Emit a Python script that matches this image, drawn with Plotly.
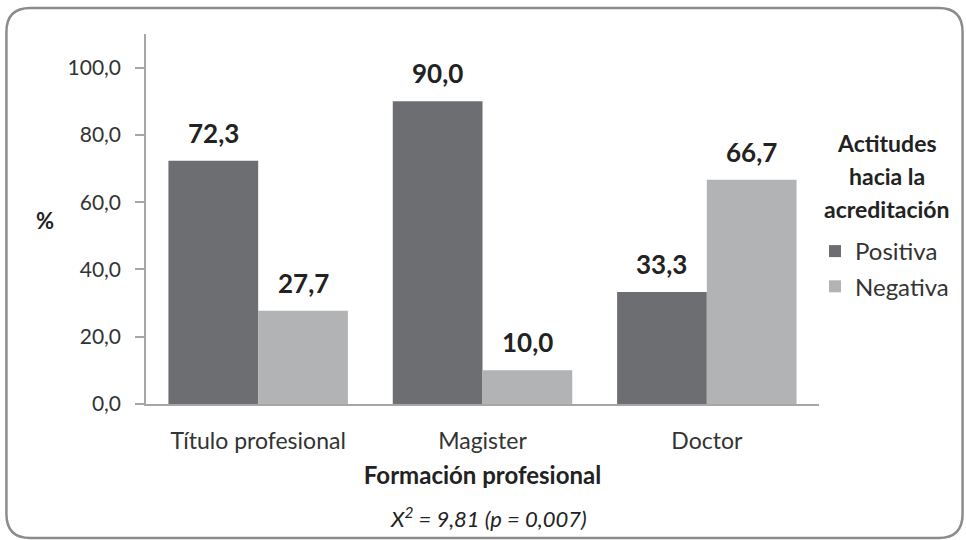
import plotly.graph_objects as go

categories = ["Título profesional", "Magister", "Doctor"]
positiva = [72.3, 90.0, 33.3]
negativa = [27.7, 10.0, 66.7]
series_names = ["Positiva", "Negativa"]
tick_vals = [0, 20, 40, 60, 80, 100]
tick_text = ["0,0", "20,0", "40,0", "60,0", "80,0", "100,0"]
legend_title_lines = ["Actitudes", "hacia la", "acreditación"]

FONT = "Lato"
W, H = 966, 540
L, R, T, B = 146, 145, 34, 136
PW, PH = W - L - R, H - T - B

def fmt(v):
    return f"{v:.1f}".replace(".", ",")

def px2paper(x, y):
    return (x - L) / PW, (H - B - y) / PH

fig = go.Figure()
colors = ["#6d6e71", "#b2b3b5"]
for i, (name, vals) in enumerate(zip(series_names, [positiva, negativa])):
    fig.add_trace(go.Bar(
        name=name, x=categories, y=vals, legendgroup=name,
        marker=dict(color=colors[i], line=dict(width=0)),
    ))
    shift = -45 if i == 0 else 45
    for c, v in zip(categories, vals):
        fig.add_annotation(x=c, y=v, xref="x", yref="y", text=f"<b>{fmt(v)}</b>",
                           showarrow=False, xshift=shift, yshift=10, yanchor="bottom",
                           font=dict(family=FONT, size=26, color="#222222"))

# rounded border
x0, y0, x1, y1, r = 6, 8, 965, 538, 24
def P(x, y):
    a, b = px2paper(x, y)
    return f"{a:.5f},{b:.5f}"
path = (f"M {P(x0 + r, y0)} L {P(x1 - r, y0)} Q {P(x1, y0)} {P(x1, y0 + r)} "
        f"L {P(x1, y1 - r)} Q {P(x1, y1)} {P(x1 - r, y1)} "
        f"L {P(x0 + r, y1)} Q {P(x0, y1)} {P(x0, y1 - r)} "
        f"L {P(x0, y0 + r)} Q {P(x0, y0)} {P(x0 + r, y0)} Z")
fig.add_shape(type="path", path=path, xref="paper", yref="paper",
              line=dict(color="#8c8c8c", width=2.5), layer="below")

ax, ay = px2paper(45, 220)
fig.add_annotation(text="<b>%</b>", x=ax, y=ay, xref="paper", yref="paper",
                   xanchor="center", yanchor="middle",
                   showarrow=False, font=dict(family=FONT, size=22, color="#222222"))
sx, sy = px2paper(490, 517)
fig.add_annotation(text="<i>X<sup>2</sup> = 9,81 (p = 0,007)</i>", x=sx, y=sy,
                   xref="paper", yref="paper", showarrow=False,
                   xanchor="center", yanchor="middle",
                   font=dict(family=FONT, size=22, color="#222222"))

for k, line in enumerate(legend_title_lines):
    lx, ly = px2paper(889, 143 + 33 * k)
    fig.add_annotation(text=f"<b>{line}</b>", x=lx, y=ly, xref="paper", yref="paper",
                       showarrow=False, xanchor="center", yanchor="middle",
                       font=dict(family=FONT, size=23, color="#222222"))

lgx, lgy = px2paper(817, 229)
fig.update_layout(
    width=W, height=H,
    margin=dict(l=L, r=R, t=T, b=B),
    paper_bgcolor="white", plot_bgcolor="white",
    barmode="group", bargap=0.2, bargroupgap=0,
    font=dict(family=FONT, color="#333333"),
    legend=dict(
        x=lgx, xanchor="left", y=lgy, yanchor="top",
        font=dict(family=FONT, size=24, color="#333333"),
        itemwidth=30, tracegroupgap=1,
    ),
    showlegend=True,
)
fig.update_yaxes(range=[0, 110], tickvals=tick_vals, ticktext=tick_text,
                 showgrid=False, zeroline=False, showline=True,
                 linecolor="#a6a6a6", linewidth=1.5, ticks="outside", ticklen=9,
                 tickcolor="#a6a6a6", tickwidth=1.5, ticklabelstandoff=10,
                 tickfont=dict(family=FONT, size=21, color="#333333"))
fig.update_xaxes(showgrid=False, showline=True, linecolor="#a6a6a6", linewidth=1.5,
                 ticks="", ticklabelstandoff=16,
                 tickfont=dict(family=FONT, size=23, color="#333333"),
                 title=dict(text="<b>Formación profesional</b>", standoff=14,
                            font=dict(family=FONT, size=24, color="#222222")))

fig.write_html("out.html")
